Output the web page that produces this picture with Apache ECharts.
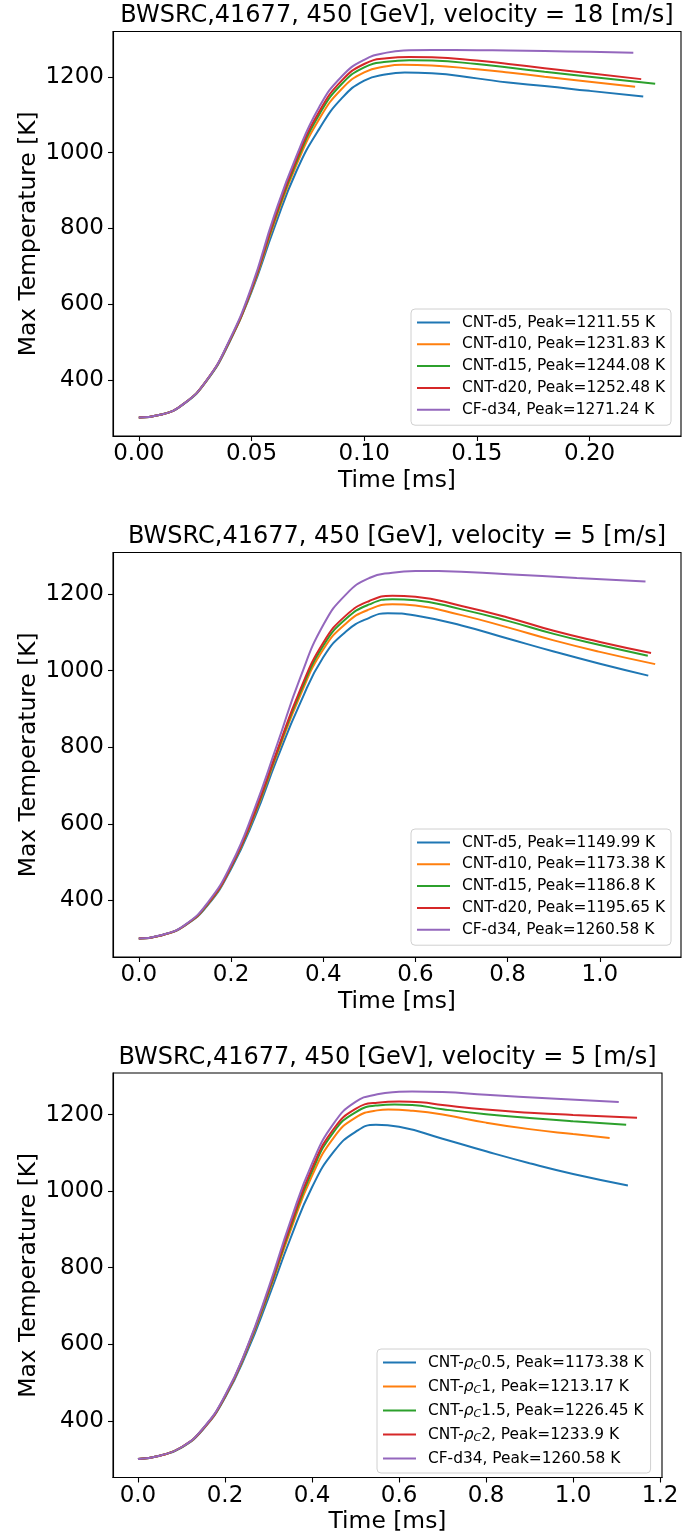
<!DOCTYPE html>
<html>
<head>
<meta charset="utf-8">
<script src="https://cdn.jsdelivr.net/npm/echarts@6/dist/echarts.min.js"></script>
<style>
html,body{margin:0;padding:0;background:#fff;}
#chart{width:682px;height:1538px;}
</style>
</head>
<body>
<div id="chart"></div>
<script>
// ---------- Titles / labels ----------
const titles = [
  'BWSRC,41677, 450 [GeV], velocity = 18 [m/s]',
  'BWSRC,41677, 450 [GeV], velocity = 5 [m/s]',
  'BWSRC,41677, 450 [GeV], velocity = 5 [m/s]'
];
const xName = 'Time [ms]';
const yName = 'Max Temperature [K]';

// ---------- Tick labels ----------
const xTicks1 = [0, 0.05, 0.10, 0.15, 0.20];
const xTicks2 = [0, 0.2, 0.4, 0.6, 0.8, 1.0];
const xTicks3 = [0, 0.2, 0.4, 0.6, 0.8, 1.0, 1.2];
const yTicks = [400, 600, 800, 1000, 1200];

// ---------- Legend labels ----------
const labels1 = ['CNT-d5, Peak=1211.55 K','CNT-d10, Peak=1231.83 K','CNT-d15, Peak=1244.08 K','CNT-d20, Peak=1252.48 K','CF-d34, Peak=1271.24 K'];
const labels2 = ['CNT-d5, Peak=1149.99 K','CNT-d10, Peak=1173.38 K','CNT-d15, Peak=1186.8 K','CNT-d20, Peak=1195.65 K','CF-d34, Peak=1260.58 K'];
const labels3 = ['CNT-{r|ρ}{s|C}0.5, Peak=1173.38 K','CNT-{r|ρ}{s|C}1, Peak=1213.17 K','CNT-{r|ρ}{s|C}1.5, Peak=1226.45 K','CNT-{r|ρ}{s|C}2, Peak=1233.9 K','CF-d34, Peak=1260.58 K'];

// ---------- Plot 1 (velocity 18 m/s): [time ms, max temperature K] ----------
const p1_cnt_d5  = [[0,300],[0.01,308],[0.02,336],[0.03,396],[0.04,496],[0.05,632],[0.06,800],[0.07,952],[0.08,1062],[0.09,1143],[0.10,1190],[0.11,1207],[0.118,1211.55],[0.13,1209.5],[0.15,1196],[0.164,1185],[0.18,1176],[0.20,1163],[0.2238,1148]];
const p1_cnt_d10 = [[0,300],[0.01,308],[0.02,336.5],[0.03,397],[0.04,498],[0.05,636],[0.06,812],[0.07,968],[0.08,1088],[0.09,1168],[0.10,1212],[0.11,1228],[0.117,1231.83],[0.13,1230],[0.15,1220],[0.164,1211.5],[0.18,1200.5],[0.20,1187],[0.2202,1174]];
const p1_cnt_d15 = [[0,300],[0.01,308],[0.02,337],[0.03,397.5],[0.04,499],[0.05,638],[0.06,818],[0.07,976],[0.08,1100],[0.09,1181],[0.10,1225],[0.11,1240],[0.12,1244.08],[0.13,1243],[0.15,1234],[0.164,1224.5],[0.18,1213.5],[0.20,1200.5],[0.2291,1182]];
const p1_cnt_d20 = [[0,300],[0.01,308],[0.02,337],[0.03,398],[0.04,500],[0.05,640],[0.06,823],[0.07,983],[0.08,1108],[0.09,1190],[0.10,1234],[0.11,1249],[0.12,1252.48],[0.13,1251.5],[0.15,1243],[0.164,1234],[0.18,1223],[0.20,1209.5],[0.2229,1194]];
const p1_cf_d34  = [[0,300],[0.01,308],[0.02,337],[0.03,398],[0.04,502],[0.05,645],[0.06,832],[0.07,992],[0.08,1120],[0.09,1201],[0.10,1245],[0.11,1264],[0.12,1270],[0.13,1271.24],[0.15,1270.5],[0.164,1269.5],[0.18,1268.2],[0.20,1266],[0.2194,1263.5]];

// ---------- Plot 2 (velocity 5 m/s, diameters) ----------
const p2_cnt_d5  = [[0,300],[0.05,309],[0.1,334],[0.15,388],[0.2,482],[0.25,612],[0.3,770],[0.35,915],[0.4,1035],[0.45,1103],[0.5,1138],[0.54,1149.99],[0.6,1144],[0.7,1118],[0.8,1084],[0.9,1050],[1.0,1018],[1.105,987]];
const p2_cnt_d10 = [[0,300],[0.05,309],[0.1,334.5],[0.15,390],[0.2,486],[0.25,620],[0.3,782],[0.35,935],[0.4,1055],[0.45,1124],[0.5,1160],[0.55,1173.38],[0.6,1170],[0.7,1145],[0.8,1113],[0.9,1079],[1.0,1049],[1.12,1017]];
const p2_cnt_d15 = [[0,300],[0.05,309],[0.1,335],[0.15,391],[0.2,487],[0.25,623],[0.3,787],[0.35,943],[0.4,1065],[0.45,1136],[0.5,1173],[0.55,1186.8],[0.6,1184],[0.7,1160],[0.8,1130],[0.9,1096],[1.0,1067],[1.104,1039]];
const p2_cnt_d20 = [[0,300],[0.05,309],[0.1,335],[0.15,392],[0.2,488],[0.25,626],[0.3,791],[0.35,950],[0.4,1073],[0.45,1145],[0.5,1182],[0.55,1195.65],[0.6,1193],[0.7,1169],[0.8,1139],[0.9,1104],[1.0,1075],[1.111,1046]];
const p2_cf_d34  = [[0,300],[0.05,309.5],[0.1,336],[0.15,395],[0.2,493],[0.25,636],[0.3,807],[0.35,981],[0.4,1119],[0.45,1200],[0.5,1242],[0.55,1256],[0.6,1260.58],[0.65,1260],[0.8,1252],[0.95,1242],[1.099,1233]];

// ---------- Plot 3 (velocity 5 m/s, densities) ----------
const p3_rho05 = [[0,300],[0.05,309],[0.1,330],[0.15,378],[0.2,460],[0.25,578],[0.3,722],[0.35,875],[0.4,1010],[0.45,1103],[0.5,1155],[0.547,1173.38],[0.6,1168],[0.7,1137],[0.8,1104],[0.9,1073],[1.0,1045],[1.126,1015]];
const p3_rho1  = [[0,300],[0.05,309],[0.1,330.5],[0.15,379],[0.2,462],[0.25,584],[0.3,733],[0.35,895],[0.4,1040],[0.45,1140],[0.5,1192],[0.55,1211],[0.575,1213.17],[0.63,1210],[0.7,1200],[0.8,1179],[0.9,1162],[1.0,1149],[1.084,1139]];
const p3_rho15 = [[0,300],[0.05,309],[0.1,330.5],[0.15,380],[0.2,463],[0.25,586],[0.3,737],[0.35,903],[0.4,1052],[0.45,1155],[0.5,1206],[0.55,1224],[0.59,1226.45],[0.63,1225],[0.7,1214],[0.8,1201],[0.9,1191],[1.0,1182.5],[1.122,1173.6]];
const p3_rho2  = [[0,300],[0.05,309],[0.1,331],[0.15,380],[0.2,464],[0.25,588],[0.3,741],[0.35,909],[0.4,1060],[0.45,1163],[0.5,1215],[0.55,1231],[0.6,1233.9],[0.65,1232],[0.7,1225],[0.8,1213],[0.9,1205],[1.0,1199],[1.147,1192]];
const p3_cf_d34 = [[0,300],[0.05,309],[0.1,331],[0.15,381],[0.2,466],[0.25,590],[0.3,747],[0.35,920],[0.4,1072],[0.45,1177],[0.5,1233],[0.55,1253],[0.6,1259.5],[0.63,1260.58],[0.7,1259],[0.8,1252],[0.95,1242],[1.105,1233]];

const colors = ['#1f77b4','#ff7f0e','#2ca02c','#d62728','#9467bd'];
const FONT = 'DejaVu Sans';

const plots = [
  {data:[p1_cnt_d5,p1_cnt_d10,p1_cnt_d15,p1_cnt_d20,p1_cf_d34], labels:labels1, xTicks:xTicks1, dec:2,
   grid:{left:113, top:31.5, width:568, height:404.5}, legend:{left:411, top:309}, title:{x:397, y:4}},
  {data:[p2_cnt_d5,p2_cnt_d10,p2_cnt_d15,p2_cnt_d20,p2_cf_d34], labels:labels2, xTicks:xTicks2, dec:1,
   grid:{left:113, top:552.5, width:568, height:404.5}, legend:{left:411, top:829}, title:{x:397, y:524.5}},
  {data:[p3_rho05,p3_rho1,p3_rho15,p3_rho2,p3_cf_d34], labels:labels3, xTicks:xTicks3, dec:1,
   grid:{left:113, top:1073, width:549, height:404.5}, legend:{left:377, top:1349}, title:{x:387.5, y:1045.5}}
];

// matplotlib-like 5% margins computed from the data
function extent(arrs, idx){
  let lo=Infinity, hi=-Infinity;
  arrs.forEach(a=>a.forEach(p=>{lo=Math.min(lo,p[idx]);hi=Math.max(hi,p[idx]);}));
  const m=(hi-lo)*0.05; return [lo-m, hi+m];
}

const option = {animation:false, title:[], grid:[], xAxis:[], yAxis:[], legend:[], series:[]};
const nameMap = {};

plots.forEach((pl, gi)=>{
  option.title.push({text:titles[gi], left:pl.title.x, top:pl.title.y, textAlign:'center', padding:0,
    textStyle:{fontFamily:FONT, fontSize:24, fontWeight:'normal', color:'#000'}});
  option.grid.push(Object.assign({show:true, borderColor:'#000', borderWidth:1.1, containLabel:false}, pl.grid));
  const xe = extent(pl.data,0), ye = extent(pl.data,1);
  option.xAxis.push({gridIndex:gi, type:'value', min:xe[0], max:xe[1],
    axisLine:{show:true, onZero:false, lineStyle:{color:'#000', width:1.1}},
    axisTick:{show:true, length:5, customValues:pl.xTicks, lineStyle:{color:'#000', width:1.1}},
    axisLabel:{customValues:pl.xTicks, formatter:(v)=>Number(v).toFixed(pl.dec), fontFamily:FONT, fontSize:23, color:'#000', margin:7},
    splitLine:{show:false},
    name:xName, nameLocation:'middle', nameGap:33, nameMoveOverlap:false,
    nameTextStyle:{fontFamily:FONT, fontSize:23.4, color:'#000'}});
  option.yAxis.push({gridIndex:gi, type:'value', min:ye[0], max:ye[1],
    axisLine:{show:true, onZero:false, lineStyle:{color:'#000', width:1.1}},
    axisTick:{show:true, length:5, customValues:yTicks, lineStyle:{color:'#000', width:1.1}},
    axisLabel:{customValues:yTicks, formatter:(v)=>String(Math.round(v)), fontFamily:FONT, fontSize:23, color:'#000', margin:9},
    splitLine:{show:false},
    name:yName, nameLocation:'middle', nameGap:73, nameMoveOverlap:false,
    nameTextStyle:{fontFamily:FONT, fontSize:23.4, color:'#000'}});
  const names = [];
  pl.data.forEach((d, si)=>{
    const nm = 's'+gi+'_'+si;
    names.push(nm); nameMap[nm] = pl.labels[si];
    option.series.push({type:'line', name:nm, xAxisIndex:gi, yAxisIndex:gi, data:d,
      showSymbol:false, symbol:'none', smooth:0.5, clip:false,
      color:colors[si], itemStyle:{color:colors[si]}, lineStyle:{color:colors[si], width:2}, z:2+si});
  });
  option.legend.push({left:pl.legend.left, top:pl.legend.top, orient:'vertical', data:names,
    formatter:(n)=>nameMap[n], selectedMode:false, icon:'rect',
    itemWidth:33, itemHeight:2, itemGap:gi===2?7.5:6.8,
    padding:gi===2?[6,7,7,6]:[6,6,8,6],
    borderColor:'#d0d0d0', borderWidth:1, borderRadius:4, backgroundColor:'rgba(255,255,255,0.85)',
    textStyle:{fontFamily:FONT, fontSize:15.4, color:'#000', padding:[0,0,0,7],
      rich:{r:{fontFamily:FONT, fontSize:15.4, fontStyle:'italic', color:'#000'},
            s:{fontFamily:FONT, fontSize:11, fontStyle:'italic', color:'#000', verticalAlign:'bottom', padding:[7,0,0,0]}}}});
});

const chart = echarts.init(document.getElementById('chart'), null, {renderer:'canvas'});
chart.setOption(option);
</script>
</body>
</html>
